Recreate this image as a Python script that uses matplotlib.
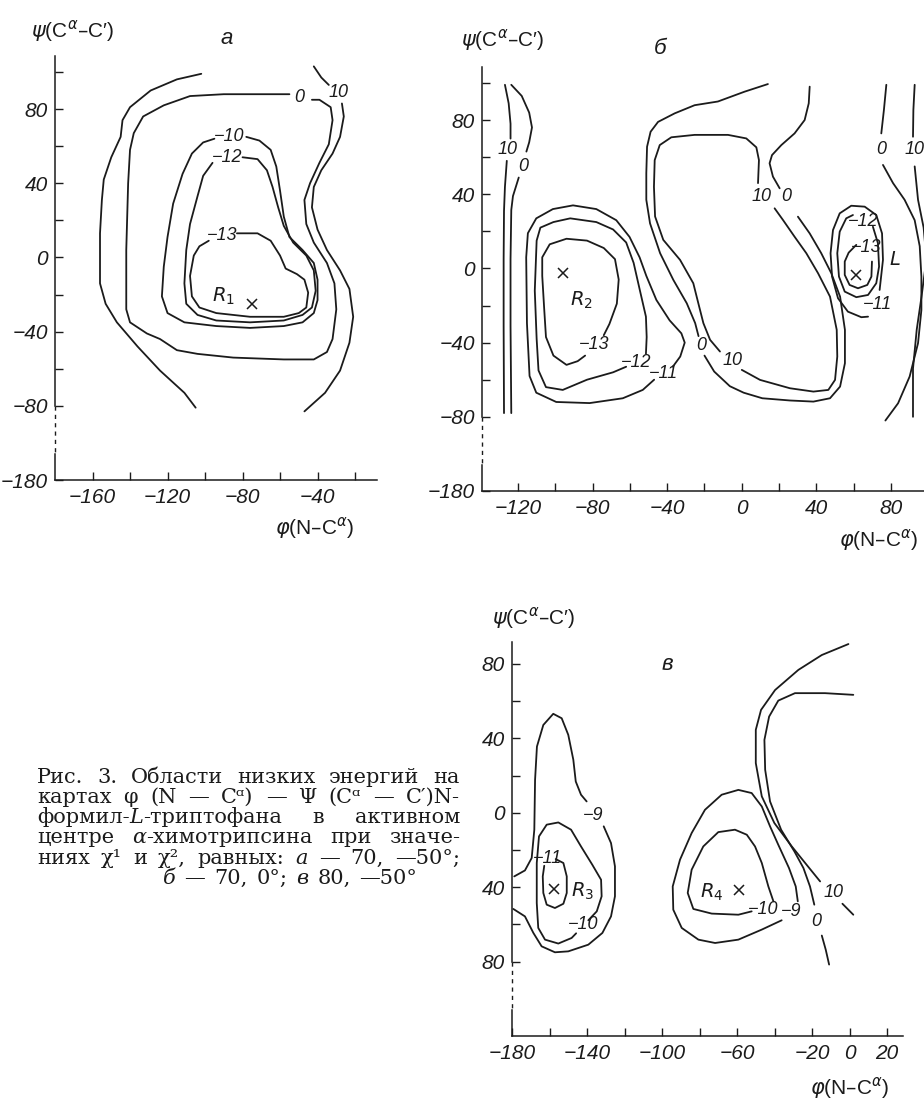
import matplotlib
matplotlib.use("Agg")
import matplotlib.pyplot as plt

W, H = 924, 1102
INK = "#1b1b1b"
plt.rcParams.update({"font.family": ["Liberation Sans", "DejaVu Sans"], "mathtext.fontset": "dejavusans",
                     "axes.linewidth": 1.1, "figure.facecolor": "white", "axes.facecolor": "white"})

# ---------------- panel a: chi1, chi2 = 70, -50 ----------------
a_c10_top = [(-42, 103), (-38, 97), (-34, 93)]
a_c10_right = [(-27, 83), (-26, 76), (-28, 65), (-32, 56), (-38, 47), (-42, 38), (-43, 27), (-40, 15),
               (-35, 4), (-28, -7), (-23, -17), (-21, -32), (-23, -46), (-28, -61), (-36, -73), (-47, -83)]
a_c10_left = [(-102, 99), (-115, 96), (-129, 90), (-140, 81), (-144, 74), (-145, 65), (-150, 54), (-154, 42),
              (-155, 31), (-156, 13), (-156, -14), (-153, -25), (-147, -35), (-136, -48), (-124, -61),
              (-111, -73), (-105, -81)]
a_c0 = [(-55, 88), (-90, 88), (-108, 87), (-122, 82), (-133, 76), (-138, 67), (-140, 58), (-141, 40),
        (-142, 4), (-142, -28), (-140, -35), (-131, -41), (-124, -44), (-115, -50), (-104, -52), (-85, -54),
        (-58, -55), (-42, -55), (-35, -51), (-32, -44), (-30, -28), (-31, -14), (-35, -3), (-42, 8),
        (-46, 18), (-47, 31), (-44, 40), (-39, 51), (-34, 61), (-32, 74), (-33, 81), (-39, 85), (-43, 85)]
a_cm10 = [(-78, 65), (-71, 63), (-65, 58), (-62, 49), (-60, 36), (-58, 22), (-55, 11), (-48, 4), (-42, -3),
          (-40, -12), (-40, -23), (-42, -30), (-48, -35), (-58, -37), (-76, -38), (-94, -37), (-111, -35),
          (-120, -30), (-123, -21), (-122, -5), (-120, 11), (-117, 29), (-112, 45), (-107, 56), (-101, 62),
          (-95, 64)]
a_cm12 = [(-80, 54), (-72, 53), (-67, 47), (-64, 38), (-61, 27), (-58, 17), (-53, 8), (-46, 1), (-42, -7),
          (-41, -18), (-43, -27), (-48, -31), (-58, -34), (-76, -35), (-94, -34), (-104, -31), (-110, -25),
          (-111, -14), (-110, 4), (-108, 18), (-104, 33), (-101, 44), (-96, 51)]
a_cm13 = [(-83, 13), (-72, 13), (-65, 9), (-60, 1), (-57, -6), (-51, -9), (-47, -12), (-45, -19), (-46, -27),
          (-50, -30), (-58, -32), (-76, -32), (-94, -30), (-103, -27), (-107, -21), (-108, -10), (-106, 1),
          (-103, 6), (-98, 9)]
a_labels = [("0", -50, 86), ("10", -29, 89), ("−10", -87, 65), ("−12", -88, 54), ("−13", -91, 12)]
a_minima = [("$R_1$", -90, -21, -75, -25)]

# ---------------- panel б: chi1, chi2 = 70, 0 ----------------
b_c10_left = [[(-127, 99), (-125, 89), (-124, 78), (-124, 70)],
              [(-126, 58), (-127, 44), (-127.5, 31), (-127.7, 5), (-127.7, -31), (-127.5, -78)]]
b_c0_left = [[(-123.6, 99), (-118, 93), (-114, 84), (-112.5, 76), (-114, 68), (-115.5, 63)],
             [(-119.6, 49), (-122.7, 39), (-123.6, 31.5), (-124, 5), (-124, -31), (-123.6, -78)]]
b_cm13 = [(-74, -36), (-71, -30), (-67, -19), (-66, -6), (-68, 5), (-74, 11), (-83, 15), (-94, 16), (-103, 13),
          (-107, 6), (-107, -4), (-106, -21), (-105, -37), (-101, -47), (-94, -52), (-88, -50), (-84, -47)]
b_cm12 = [(-51.4, -46), (-51, -37), (-51.4, -26), (-54.6, -12), (-58, 3), (-62, 14), (-69, 21), (-78, 25),
          (-92, 27), (-101, 25), (-108, 22), (-110, 15), (-111, -12), (-110, -38), (-109, -55), (-105, -64),
          (-96, -65.5), (-83, -60), (-69, -56), (-62, -53)]
b_cm11 = [(-37, -53), (-33, -47.5), (-30.6, -40), (-32.4, -35), (-38.7, -28), (-45.8, -17), (-51.2, -4),
          (-54.8, 6), (-60.2, 17), (-67.3, 26), (-78, 32), (-90.5, 34), (-101.3, 32), (-110.2, 27),
          (-114.7, 19), (-115.6, 6), (-115.2, -29.5), (-113.8, -58), (-110.2, -67), (-99.5, -72),
          (-81.6, -72.6), (-63.8, -70), (-53.1, -65.5), (-47, -60)]
b_c0_mid = [[(14, 99.4), (1.5, 95.3), (-12.8, 90), (-25.3, 88), (-36, 83.6), (-44.9, 79), (-48.9, 73.7),
             (-50.8, 65.6), (-51.2, 51.3), (-51.2, 37), (-49.2, 24.3), (-43.8, 8.2), (-36.7, -6.2),
             (-29.5, -18.8), (-25, -29.5), (-23.2, -36.5)],
            [(-20, -47), (-14.8, -55.6), (-6.4, -63.5), (1, -67), (11, -70), (25.8, -71.2), (38.4, -71.8),
             (47.3, -70), (52.7, -63.7), (55.3, -51.1), (55.3, -33.1), (52.7, -15.2), (48, -2.6), (42.6, 8.2),
             (36.4, 18.9), (30.1, 27.9)],
            [(20.3, 43.2), (16.7, 49.5), (14.9, 56.7), (16.2, 61.1), (21.2, 66.5), (28.3, 72.8), (33.7, 80),
             (35.9, 89), (36.4, 98)]]
b_c10_mid = [[(8.7, 46), (9.2, 58.4), (7.8, 65.3), (2.4, 70.1), (-7.4, 72), (-25.3, 72), (-37.8, 70.7),
              (-44, 66.5), (-46.7, 58.4), (-47.1, 44), (-46.5, 28), (-42.1, 15.4), (-33.1, 4.6), (-26, -8),
              (-23.3, -18.8), (-20.6, -29.5), (-17, -38.5), (-11.7, -44.8)],
             [(0, -54.7), (9.8, -60.1), (25.8, -64.6), (38.4, -66.4), (46.4, -65.5), (50, -60.1), (51.2, -47.5),
              (50.9, -33.1), (47.3, -15.2), (40.9, -2.6), (34.6, 8.2), (28.3, 17.1), (22.1, 26.1), (17.6, 32.4)]]
b_cm11_L = [(73.9, -11.6), (75.7, 4.6), (75.2, 18.9), (72.1, 28.8), (65.9, 33.3), (58.7, 33.8), (52.5, 29.7),
            (48.9, 20.7), (47.6, 8.2), (48.4, -4.4), (51.6, -16.1), (56.9, -23.3), (64.1, -26.3), (67.7, -26)]
b_cm12_L = [(70.3, 22.5), (73, 13.6), (73.6, 1), (72.1, -8), (67.7, -14.3), (61.4, -15.5), (55.2, -12.5),
            (52.1, -4.4), (51.2, 8.2), (52.5, 19.8), (56, 27), (59.6, 28.8)]
b_cm13_L = [(69.8, 3.7), (69.5, -4.4), (67.3, -8.9), (62.3, -10.7), (57.8, -8.9), (55.2, -3.5), (55.2, 3.7),
            (57.3, 8.5), (61.4, 12.7)]
b_c0_right = [[(77.5, 99), (76.2, 85.4), (74.8, 72.8)],
              [(75.7, 55.8), (81.1, 46), (87.3, 37), (92.7, 26), (95.4, 12), (96.3, -4.4), (96.3, -22.4),
               (94.5, -40.3), (90, -58.3), (83.8, -72.7), (77, -82)]]
b_c10_right = [[(92.7, 99), (92, 85.4), (91.8, 71)],
               [(92.7, 55), (94.5, 37), (97.5, 22), (99, 5), (96.4, -15), (93.8, -33), (91.8, -54), (91.8, -80)]]
b_labels = [("10", -125.5, 64), ("0", -117, 55), ("−13", -79, -41), ("−12", -56.5, -50.5), ("−11", -42, -56.5),
            ("0", -22, -41.5), ("10", -5, -49.5), ("10", 10.5, 38.7), ("0", 24, 38.7), ("−12", 65, 25.5),
            ("−13", 66.5, 11.5), ("−11", 72.5, -19.5), ("0", 74.5, 64), ("10", 92.6, 64)]
b_minima = [("$R_2$", -86, -17, -96, -2.6), ("$L$", 82, 4.6, 61.4, -3.5)]

# ---------------- panel в: chi1, chi2 = 80, -50 ----------------
v_cm9_R3 = [[(-178.8, -34.2), (-173.1, -31), (-169.5, -24.3), (-168.1, -9.1), (-167.7, 17.7), (-166.7, 35.6),
             (-163.3, 47.2), (-158, 53.2), (-153.5, 50.8), (-150, 41.9), (-147.3, 28.5), (-146, 16.8),
             (-143.2, 9.7), (-140.2, 6.1)],
            [(-131.1, -7.3), (-127.2, -16.3), (-125.1, -28.8), (-125.1, -44.9), (-127.2, -55.7), (-131.8, -64.6),
             (-139.3, -70.9), (-150, -74.5), (-157.1, -75), (-164.2, -71.8), (-168.6, -64.6), (-173.1, -55.7),
             (-179.3, -51.7)]]
v_cm10_R3 = [(-139.3, -57.8), (-134.8, -53), (-132.2, -44.9), (-132.5, -36), (-137.2, -27.9), (-143.2, -18.1),
             (-148.5, -9.1), (-155.3, -5.2), (-161.5, -6.4), (-165.6, -12.7), (-166.8, -27), (-166.8, -48.5),
             (-166, -61.9), (-162.4, -68.2), (-155.3, -70.3), (-148.2, -67.3), (-145.8, -64.8)]
v_cm11_R3 = [(-156.7, -24.9), (-152.6, -27), (-150.8, -34.2), (-150.8, -43.1), (-152.6, -48.9), (-157.1, -51.2),
             (-161.5, -49.4), (-163.3, -43.1), (-163.6, -34.2), (-162.8, -28.5)]
v_cm10_R4 = [(-40.6, -47.6), (-43.3, -39.6), (-46.8, -27), (-50.4, -18.1), (-54.8, -11.8), (-61.1, -9.1),
             (-70, -10.4), (-78, -18.1), (-84.2, -30.6), (-86.3, -43.1), (-83.3, -51.7), (-73.5, -54.2),
             (-59.3, -54.8), (-52.2, -53)]
v_cm9_R4 = [(-27.6, -47.6), (-28.7, -39.6), (-32.3, -29.7), (-38, -17.2), (-42.4, -7.3), (-46.8, 3.4),
            (-52.2, 10.6), (-59.3, 12.3), (-68.2, 9.7), (-77.1, 1.6), (-84.2, -10.9), (-90.4, -25.2),
            (-94.3, -39.6), (-94, -52.1), (-89.5, -61.9), (-80.6, -68.2), (-71.7, -70), (-59.3, -68.2),
            (-46.8, -62.8), (-36.2, -57.8)]
v_c0 = [[(2, 63.4), (-13.1, 64.3), (-29.1, 64.3), (-38, 60.3), (-42.9, 51.7), (-45.4, 39.2), (-45, 23.1),
         (-42.4, 6.1), (-36.5, -9.1), (-29.4, -20.8), (-24.6, -29.7), (-21.1, -39.6), (-18.8, -49.4)],
        [(-14.8, -66), (-12.7, -73.6), (-10.9, -81.6)]]
v_c10 = [[(-0.6, 90.7), (-14.8, 84.8), (-27.3, 76.8), (-39.7, 66), (-47.2, 55.3), (-50, 44.6), (-50, 26.7),
          (-46.8, 8.8), (-40.1, -5.5), (-30.8, -18.1), (-21.9, -29.2), (-15.7, -36.9)],
         [(-3.8, -48.9), (2, -54.8)]]
v_labels = [("−9", -137, -1.5), ("−11", -161, -24.5), ("−10", -142, -60), ("−10", -46, -52), ("−9", -31, -53),
            ("0", -18, -58.5), ("10", -8.5, -43)]
v_minima = [("$R_3$", -142.5, -42, -157.6, -41), ("$R_4$", -73.5, -43, -58.8, -41.3)]

# axis ticks / labels
a_xticks = list(range(-160, 0, 20))
a_xlabels = {-160: "−160", -120: "−120", -80: "−80", -40: "−40"}
b_xticks = list(range(-120, 100, 20))
b_xlabels = {-120: "−120", -80: "−80", -40: "−40", 0: "0", 40: "40", 80: "80"}
v_xticks = list(range(-180, 40, 20))
v_xlabels = {-180: "−180", -140: "−140", -100: "−100", -60: "−60", -20: "−20", 0: "0", 20: "20"}
ab_yticks = list(range(100, -100, -20)) + [-180]
ab_ylabels = {80: "80", 40: "40", 0: "0", -40: "−40", -80: "−80", -180: "−180"}
v_yticks = list(range(80, -100, -20))
v_ylabels = {80: "80", 40: "40", 0: "0", -40: "40", -80: "80"}

CAPTION = [
    "Рис. 3. Области низких энергий на",
    "картах φ (N — Cᵅ) — Ψ (Cᵅ — C′)N-",
    "формил-_L_-триптофана в активном",
    "центре _α_-химотрипсина при значе-",
    "ниях χ¹ и χ², равных: _а_ — 70, —50°;",
    "_б_ — 70, 0°; _в_ 80, —50°",
]


def psi_pos(v):
    # broken psi axis: the -80 ... -180 stretch is squeezed into 40 units
    return v if v >= -80 else -80 + (v + 80) * 0.4


def fx(px):
    return px / W


def fy(py):
    return 1 - py / H


def make_axes(fig, box, xlim, ytop, xticks, xlabels, yticks, ylabels):
    x0, y0, x1, y1 = box
    ax = fig.add_axes([x0 / W, 1 - y1 / H, (x1 - x0) / W, (y1 - y0) / H])
    ax.set_xlim(*xlim)
    ax.set_ylim(psi_pos(-180), ytop)
    ax.set_xticks(xticks)
    ax.set_xticklabels([xlabels.get(v, "") for v in xticks])
    ax.set_yticks([psi_pos(v) for v in yticks])
    ax.set_yticklabels([ylabels.get(v, "") for v in yticks])
    ax.tick_params(direction="in", length=6, width=1.0, labelsize=15, colors=INK)
    ax.tick_params(axis="y", pad=5)
    ax.tick_params(axis="x", pad=6)
    for lab in ax.get_xticklabels() + ax.get_yticklabels():
        lab.set_fontstyle("italic")
    for s in ("top", "right"):
        ax.spines[s].set_visible(False)
    ax.spines["left"].set_bounds(-80, ytop)
    for s in ("left", "bottom"):
        ax.spines[s].set_color(INK)
    # the broken part of the psi axis
    ax.plot([xlim[0]] * 2, [-80, -106], color=INK, lw=1.0, ls=(0, (3, 3)), clip_on=False)
    ax.plot([xlim[0]] * 2, [-106, psi_pos(-180)], color=INK, lw=1.1, clip_on=False)
    return ax


def draw_curves(ax, curves):
    for c in curves:
        xs = [p[0] for p in c]
        ys = [p[1] for p in c]
        ax.plot(xs, ys, color=INK, lw=1.3, solid_joinstyle="round", solid_capstyle="round")


def draw_labels(ax, labels, minima):
    for txt, x, y in labels:
        ax.text(x, y, txt, fontsize=13, style="italic", ha="center", va="center", color=INK)
    for txt, lx, ly, mx, my in minima:
        ax.text(lx, ly, txt, fontsize=14, ha="center", va="center", color=INK)
        ax.plot([mx], [my], marker="x", ms=7, mew=1.1, color=INK, ls="none")


fig = plt.figure(figsize=(W / 100, H / 100), dpi=100)

ax_a = make_axes(fig, (55, 56, 377, 480), (-180, -8.3), 108.6, a_xticks, a_xlabels, ab_yticks, ab_ylabels)
draw_curves(ax_a, [a_c10_top, a_c10_right, a_c10_left, a_c0, a_cm10, a_cm12, a_cm13])
draw_labels(ax_a, a_labels, a_minima)

ax_b = make_axes(fig, (482, 67, 924, 491), (-139.3, 97.7), 108.6, b_xticks, b_xlabels, ab_yticks, ab_ylabels)
draw_curves(ax_b, b_c10_left + b_c0_left + [b_cm13, b_cm12, b_cm11] + b_c0_mid + b_c10_mid
            + [b_cm11_L, b_cm12_L, b_cm13_L] + b_c0_right + b_c10_right)
draw_labels(ax_b, b_labels, b_minima)

ax_v = make_axes(fig, (512, 642, 903, 1036), (-180, 28.5), 91.8, v_xticks, v_xlabels, v_yticks, v_ylabels)
draw_curves(ax_v, v_cm9_R3 + [v_cm10_R3, v_cm11_R3, v_cm10_R4, v_cm9_R4] + v_c0 + v_c10)
draw_labels(ax_v, v_labels, v_minima)

# panel letters and axis names
for txt, px, py in [("а", 227, 38), ("б", 660, 48), ("в", 667, 664)]:
    fig.text(fx(px), fy(py), txt, fontsize=16, style="italic", ha="center", va="center", color=INK)
for px, py in [(73, 31), (503, 40), (534, 618)]:
    fig.text(fx(px), fy(py), r"$\psi$(C$^{\alpha}$–C′)", fontsize=15, ha="center", va="center", color=INK)
for px, py in [(315, 528), (879, 540), (850, 1088)]:
    fig.text(fx(px), fy(py), r"$\varphi$(N–C$^{\alpha}$)", fontsize=15, ha="center", va="center", color=INK)

# caption, justified line by line (the last line is centred)
CAP_KW = dict(fontsize=15, family=["DejaVu Serif", "DejaVu Sans"], color=INK)
renderer = fig.canvas.get_renderer()


def seg_width(s, italic):
    t = fig.text(0, 0, s, style="italic" if italic else "normal", **CAP_KW)
    w = t.get_window_extent(renderer=renderer).width
    t.remove()
    return w


cap_base = [783, 803, 823, 843, 864, 884]
cap_left, cap_right, last_centre, last_gap = 37, 460, 290, 9
for i, (line, base) in enumerate(zip(CAPTION, cap_base)):
    words = []
    for w in line.split(" "):
        segs = [(s, k % 2 == 1) for k, s in enumerate(w.split("_")) if s]
        words.append([(s, it, seg_width(s, it)) for s, it in segs])
    total = sum(sw for wd in words for _, _, sw in wd)
    if i == len(CAPTION) - 1:
        gap = last_gap
        x = last_centre - (total + gap * (len(words) - 1)) / 2
    else:
        gap = (cap_right - cap_left - total) / (len(words) - 1)
        x = cap_left
    for wd in words:
        for s, it, sw in wd:
            fig.text(fx(x), fy(base), s, style="italic" if it else "normal", ha="left", va="baseline", **CAP_KW)
            x += sw
        x += gap

fig.savefig("out.png", dpi=100)
